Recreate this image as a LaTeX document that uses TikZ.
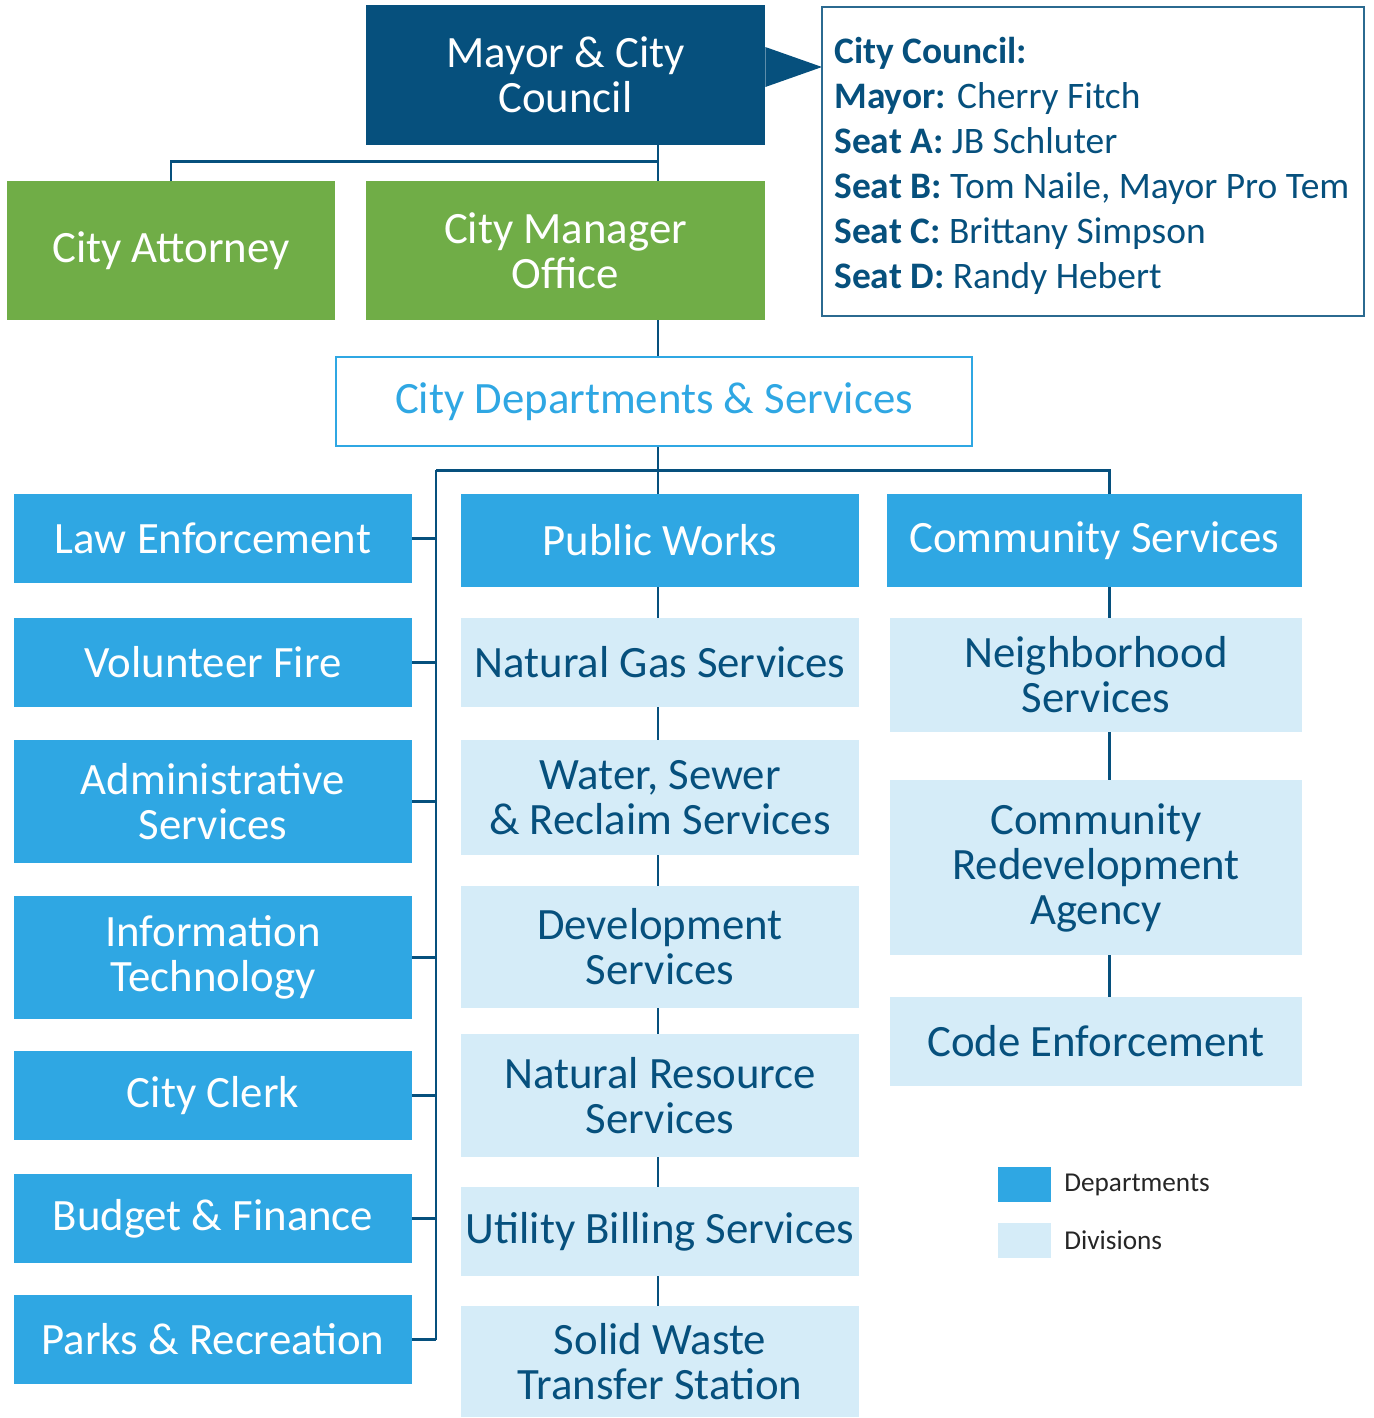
\documentclass[tikz,border=0pt]{standalone}
\usepackage{fontspec}
\setmainfont{Carlito}
\usepackage{tikz}
\usetikzlibrary{positioning}
\usepackage{xcolor}
\definecolor{darkblue}{HTML}{06507D}
\definecolor{leadgreen}{HTML}{70AD47}
\definecolor{deptblue}{HTML}{2FA7E3}
\definecolor{divblue}{HTML}{D5ECF8}
\tikzset{
  box/.style={inner sep=0pt, align=center, font=\fontsize{25.5}{25.6}\selectfont},
  dept/.style={box, fill=deptblue, text=white},
  divn/.style={box, fill=divblue, text=darkblue},
  lead/.style={box, fill=leadgreen, text=white},
  link/.style={draw=darkblue, line width=1.7pt},
}

\begin{document}
\begin{tikzpicture}[x=0.02cm,y=-0.02cm]
\useasboundingbox (0,0) rectangle (1374,1418);
% spines of the tree
\coordinate (spine) at (658,0);
\coordinate (rspine) at (1109,0);
\coordinate (lbus) at (436,0);
% top level
\node[box, fill=darkblue, text=white, minimum width=7.98cm, minimum height=2.8cm] (mayor) at (565.5,75) {Mayor \& City\\Council};
\fill[darkblue] (mayor.east |- 0,47) -- (822,67) -- (mayor.east |- 0,87) -- cycle;
\node[draw=darkblue!85, line width=0.8pt, minimum width=10.84cm, minimum height=6.18cm, inner sep=0pt] (council) at (1093,161.5) {};
\node[anchor=west, align=left, text=darkblue, font=\fontsize{21.3}{25.6}\selectfont, inner sep=0pt] (members) at (834,166)
  {\textbf{City Council:}\\
   \textbf{Mayor:} Cherry Fitch\\
   \textbf{Seat A:} JB Schluter\\
   \textbf{Seat B:} Tom Naile, Mayor Pro Tem\\
   \textbf{Seat C:} Brittany Simpson\\
   \textbf{Seat D:} Randy Hebert};
\node[lead, minimum width=6.56cm, minimum height=2.78cm] (attorney) at (171,250.5) {City Attorney};
\node[lead, minimum width=7.98cm, minimum height=2.78cm] (manager) at (565.5,250.5) {City Manager\\Office};
\node[box, draw=deptblue, line width=1.6pt, text=deptblue, minimum width=12.72cm, minimum height=1.78cm] (services) at (654,401.5) {City Departments \& Services};
\coordinate (split) at (658,161);
\coordinate (fork) at (658,470);
% departments, left column
\node[dept, minimum width=7.96cm, minimum height=1.78cm] (law) at (213,538.5) {Law Enforcement};
\node[dept, minimum width=7.96cm, minimum height=1.78cm] (fire) at (213,662.5) {Volunteer Fire};
\node[dept, minimum width=7.96cm, minimum height=2.46cm] (admin) at (213,801.5) {Administrative\\Services};
\node[dept, minimum width=7.96cm, minimum height=2.46cm] (infotech) at (213,957.5) {Information\\Technology};
\node[dept, minimum width=7.96cm, minimum height=1.78cm] (clerk) at (213,1095.5) {City Clerk};
\node[dept, minimum width=7.96cm, minimum height=1.78cm] (budget) at (213,1218.5) {Budget \& Finance};
\node[dept, minimum width=7.96cm, minimum height=1.78cm] (parks) at (213,1339.5) {Parks \& Recreation};
% public works
\node[dept, minimum width=7.96cm, minimum height=1.86cm] (works) at (660,540.5) {Public Works};
\node[divn, minimum width=7.96cm, minimum height=1.78cm] (gas) at (660,662.5) {Natural Gas Services};
\node[divn, minimum width=7.96cm, minimum height=2.3cm] (water) at (660,797.5) {Water, Sewer\\\& Reclaim Services};
\node[divn, minimum width=7.96cm, minimum height=2.44cm] (devel) at (660,947) {Development\\Services};
\node[divn, minimum width=7.96cm, minimum height=2.46cm] (natres) at (660,1095.5) {Natural Resource\\Services};
\node[divn, minimum width=7.96cm, minimum height=1.78cm] (billing) at (660,1231.5) {Utility Billing Services};
\node[divn, minimum width=7.96cm, minimum height=2.22cm] (waste) at (660,1361.5) {Solid Waste\\Transfer Station};
% community services
\node[dept, minimum width=8.3cm, minimum height=1.86cm] (community) at (1094.5,540.5) {Community Services};
\node[divn, minimum width=8.24cm, minimum height=2.28cm] (neighbor) at (1096,675) {Neighborhood\\Services};
\node[divn, minimum width=8.24cm, minimum height=3.5cm] (redevel) at (1096,867.5) {Community\\Redevelopment\\Agency};
\node[divn, minimum width=8.24cm, minimum height=1.78cm] (code) at (1096,1041.5) {Code Enforcement};
% legend
\node[fill=deptblue, minimum width=1.06cm, minimum height=0.7cm, inner sep=0pt] (keydept) at (1024.5,1184.5) {};
\node[fill=divblue, minimum width=1.06cm, minimum height=0.7cm, inner sep=0pt] (keydiv) at (1024.5,1240.5) {};
\node[anchor=west, inner sep=0pt, text=black!85, font=\fontsize{15.5}{18}\selectfont] at (1064,1184.5) {Departments};
\node[anchor=west, inner sep=0pt, text=black!85, font=\fontsize{15.5}{18}\selectfont] at (1064,1240.5) {Divisions};
% connectors
\draw[link] (mayor.south -| spine) -- (manager.north -| spine);
\draw[link] (attorney.north) |- (split);
\draw[link] (manager.south -| spine) -- (services.north -| spine);
\draw[link] (services.south -| spine) -- (works.north -| spine);
\draw[link] (fork -| lbus) -- (fork -| rspine) -- (community.north -| rspine);
\draw[link] (fork -| lbus) -- (parks.east -| lbus);
\foreach \d in {law,fire,admin,infotech,clerk,budget,parks}
  \draw[link] (\d.east) -- (\d.east -| lbus);
\foreach \a/\b in {works/gas,gas/water,water/devel,devel/natres,natres/billing,billing/waste}
  \draw[link] (\a.south -| spine) -- (\b.north -| spine);
\foreach \a/\b in {community/neighbor,neighbor/redevel,redevel/code}
  \draw[link] (\a.south -| rspine) -- (\b.north -| rspine);
\end{tikzpicture}
\end{document}
